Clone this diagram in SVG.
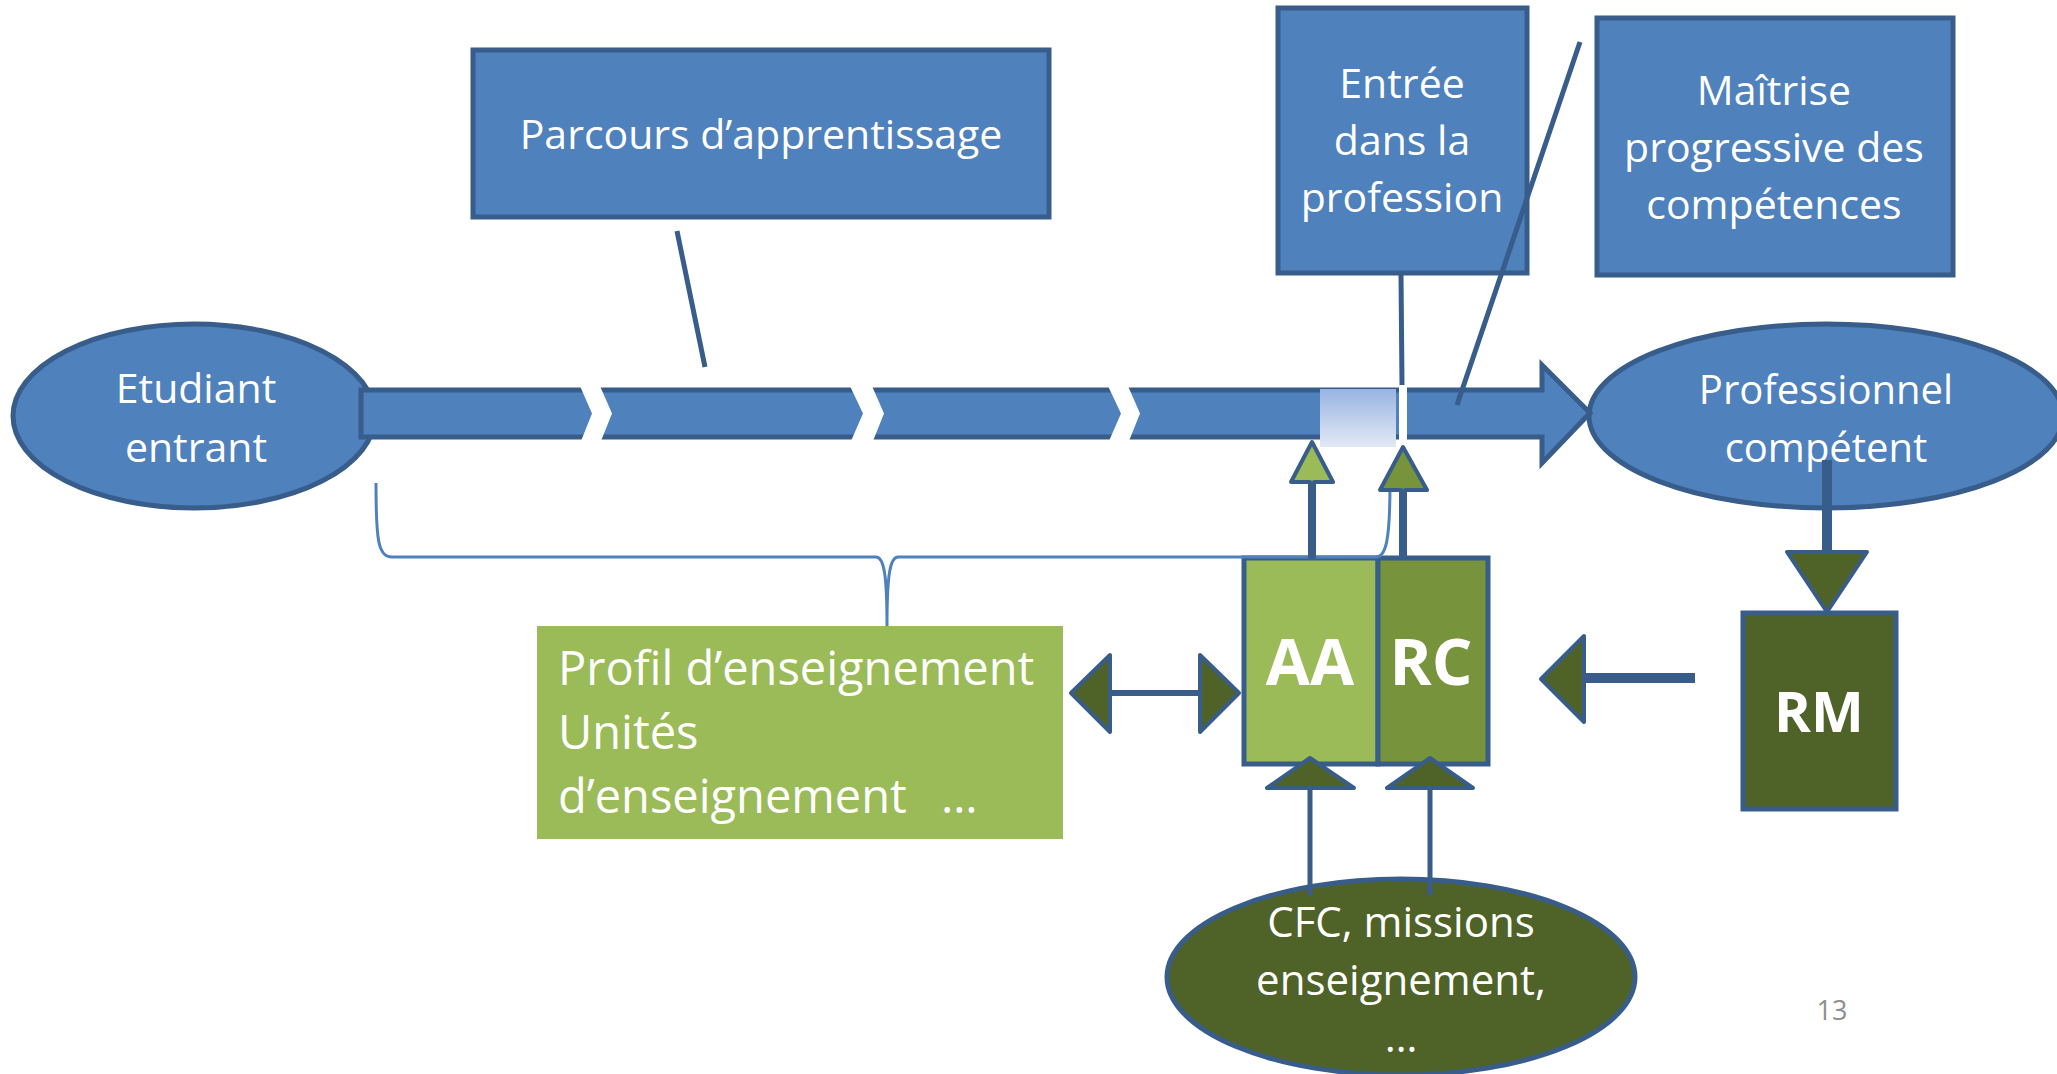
<svg xmlns="http://www.w3.org/2000/svg" width="2057" height="1074" viewBox="0 0 2057 1074">
<defs>
<style>
.bx{fill:#4F81BD;stroke:#385D8A;stroke-width:5}
.t{font-family:"Open Sans","Noto Sans","DejaVu Sans",sans-serif;fill:#FFFFFF;font-size:41px;text-anchor:middle}
.tb{font-family:"Open Sans","Noto Sans","DejaVu Sans",sans-serif;fill:#FFFFFF;font-weight:bold;text-anchor:middle}
.ln{stroke:#385D8A;stroke-width:5;fill:none}
.hd{stroke:#385D8A;stroke-width:4;stroke-linejoin:round}
.dg{fill:#4F6228}
.gap{fill:#FFFFFF}
</style>
<linearGradient id="lg" x1="0" y1="0" x2="0" y2="1">
<stop offset="0" stop-color="#98B4E3"/>
<stop offset="1" stop-color="#E2E9F5"/>
</linearGradient>
</defs>
<rect width="2057" height="1074" fill="#FFFFFF"/>

<g id="etudiant">
<ellipse class="bx" cx="194" cy="416" rx="181" ry="92"/>
<text class="t" x="196" y="403">Etudiant</text>
<text class="t" x="196" y="462">entrant</text>
</g>

<g id="professionnel">
<ellipse class="bx" cx="1826" cy="416" rx="237" ry="92"/>
<text class="t" x="1826" y="404" style="font-size:40px">Professionnel</text>
<text class="t" x="1826" y="462" style="font-size:40px">compétent</text>
</g>

<g id="parcours-bar">
<polygon class="bx" points="361,390 1542,390 1542,365 1590,413 1542,463 1542,437 361,437"/>
<polygon class="gap" points="580,386 600,386 612,413.5 601,441 581,441 592,413.5"/>
<polygon class="gap" points="850,386 872,386 884,413.5 873,441 851,441 863,413.5"/>
<polygon class="gap" points="1108,386 1128,386 1140,413.5 1129,441 1109,441 1121,413.5"/>
<rect class="gap" x="1399" y="386" width="8" height="55"/>
<rect x="1320" y="389" width="76" height="58" fill="url(#lg)"/>
</g>

<g id="parcours-box">
<rect class="bx" x="473" y="50" width="576" height="167"/>
<text class="t" x="761" y="149">Parcours d’apprentissage</text>
</g>

<g id="entree-box">
<rect class="bx" x="1278" y="8" width="249" height="265"/>
<text class="t" x="1402" y="98">Entrée</text>
<text class="t" x="1402" y="155">dans la</text>
<text class="t" x="1402" y="212">profession</text>
</g>

<g id="maitrise-box">
<rect class="bx" x="1597" y="18" width="356" height="257"/>
<text class="t" x="1774" y="105">Maîtrise</text>
<text class="t" x="1774" y="162">progressive des</text>
<text class="t" x="1774" y="219">compétences</text>
</g>

<g id="profil-box">
<rect x="537" y="626" width="526" height="213" fill="#9BBB59"/>
<text class="t" style="text-anchor:start;font-size:47px" x="558" y="685">Profil d’enseignement</text>
<text class="t" style="text-anchor:start;font-size:47px" x="558" y="749">Unités</text>
<text class="t" style="text-anchor:start;font-size:47px" x="558" y="813">d’enseignement</text>
<text class="t" style="text-anchor:start;font-size:47px" x="941" y="813">…</text>
</g>

<g id="aa-rc">
<rect x="1244" y="558" width="134" height="206" fill="#9BBB59" stroke="#385D8A" stroke-width="5"/>
<rect x="1378" y="558" width="110" height="206" fill="#77933C" stroke="#385D8A" stroke-width="5"/>
<text class="tb" x="1310" y="685" style="font-size:64px">AA</text>
<text class="tb" x="1431" y="685" style="font-size:64px">RC</text>
</g>

<g id="rm">
<rect x="1743" y="613" width="153" height="196" fill="#4F6228" stroke="#385D8A" stroke-width="5"/>
<text class="tb" x="1819" y="732" style="font-size:56px">RM</text>
</g>

<g id="cfc">
<ellipse cx="1401" cy="977" rx="234" ry="98" fill="#4F6228" stroke="#385D8A" stroke-width="5"/>
<text class="t" x="1401" y="937" style="font-size:42px">CFC, missions</text>
<text class="t" x="1401" y="995" style="font-size:42px">enseignement,</text>
<text class="t" x="1401" y="1052" style="font-size:42px">…</text>
</g>

<g id="page-number">
<text x="1832" y="1020" style="font-family:'Open Sans','Noto Sans',sans-serif;font-size:27px;fill:#8E8E8E;text-anchor:middle">13</text>
</g>

<g id="connectors">
<line class="ln" x1="677" y1="231" x2="705" y2="367"/>
<line class="ln" x1="1401" y1="275" x2="1402" y2="385"/>
<line class="ln" x1="1580" y1="42" x2="1457" y2="405"/>
<path d="M376,483 C376,540 378,557 392,557 L876,557 C884,557 887,575 887,626 C887,575 890,557 898,557 L1376,557 C1386,557 1390,540 1390,483" fill="none" stroke="#4F81BD" stroke-width="3"/>
<polygon class="hd" fill="#9BBB59" points="1310,557 1310,482 1291,482 1312,442 1333,482 1314,482 1314,557"/>
<polygon class="hd" fill="#77933C" points="1401,557 1401,490 1380,490 1403,447 1427,490 1405,490 1405,557"/>
<line class="ln" x1="1827" y1="460" x2="1827" y2="554" style="stroke-width:10"/>
<polygon class="hd dg" points="1787,552 1867,552 1827,612"/>
<line class="ln" x1="1695" y1="678" x2="1582" y2="678" style="stroke-width:10"/>
<polygon class="hd dg" points="1584,636 1584,722 1541,679"/>
<line class="ln" x1="1108" y1="693" x2="1202" y2="693" style="stroke-width:6"/>
<polygon class="hd dg" points="1110,655 1110,732 1071,693"/>
<polygon class="hd dg" points="1200,655 1200,732 1239,693"/>
<line class="ln" x1="1310" y1="895" x2="1310" y2="786"/>
<polygon class="hd dg" points="1267,788 1354,788 1310,758"/>
<line class="ln" x1="1430" y1="895" x2="1430" y2="786"/>
<polygon class="hd dg" points="1387,788 1473,788 1430,758"/>
</g>
</svg>
